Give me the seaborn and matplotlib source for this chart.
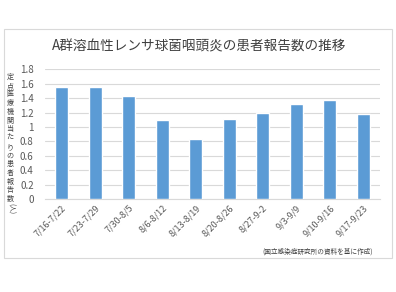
import matplotlib
matplotlib.use("Agg")
import matplotlib.pyplot as plt
import seaborn as sns
import pandas as pd

categories = ["7/16-7/22", "7/23-7/29", "7/30-8/5", "8/6-8/12", "8/13-8/19",
              "8/20-8/26", "8/27-9-2", "9/3-9/9", "9/10-9/16", "9/17-9/23"]
values = [1.56, 1.56, 1.43, 1.10, 0.83, 1.11, 1.20, 1.32, 1.37, 1.18]
yticks = [0, 0.2, 0.4, 0.6, 0.8, 1, 1.2, 1.4, 1.6, 1.8]
ytick_labels = ["0", "0.2", "0.4", "0.6", "0.8", "1", "1.2", "1.4", "1.6", "1.8"]
title = "A群溶血性レンサ球菌咽頭炎の患者報告数の推移"
ylabel_chars = "定点医療機関当たりの患者報告数"
source = "(国立感染症研究所の資料を基に作成)"

sns.set_theme(style="white")
plt.rcParams['font.family'] = ['Noto Sans CJK JP', 'DejaVu Sans']

df = pd.DataFrame({"week": categories, "value": values})

fig = plt.figure(figsize=(3.96, 2.92), dpi=100)
fig.patch.set_facecolor("white")

# outer border
border = plt.Rectangle((4/396, 1-258/292), (392-4)/396, (258-29)/292,
                       transform=fig.transFigure, fill=False,
                       edgecolor="#d9d9d9", linewidth=0.8)
fig.add_artist(border)

ax = fig.add_axes([44.75/396, 1-199/292, (380-44.75)/396, (199-69.3)/292])
sns.barplot(data=df, x="week", y="value", color="#5B9BD5", width=0.39,
            saturation=1, ax=ax, zorder=3)
ax.set_ylim(0, 1.8)
ax.set_xlim(-0.5, len(categories)-0.5)
ax.set_yticks(yticks)
ax.set_yticklabels(ytick_labels, fontsize=7, color="#595959")
ax.set_xticks(range(len(categories)))
ax.set_xticklabels(categories, rotation=45, ha="right", rotation_mode="anchor",
                   fontsize=6.5, color="#595959")
ax.tick_params(axis="both", length=0, pad=3)
ax.tick_params(axis="y", pad=8)
ax.yaxis.grid(True, color="#d9d9d9", linewidth=0.8, zorder=0)
ax.set_axisbelow(True)
for s in ["top", "right", "left"]:
    ax.spines[s].set_visible(False)
ax.spines["bottom"].set_color("#d9d9d9")
ax.spines["bottom"].set_linewidth(0.8)
ax.set_xlabel("")
ax.set_ylabel("")

fig.text(199/396, 1-46/292, title, ha="center", va="center", fontsize=9.8,
         color="#404040")

fig.text(10/396, 1-73/292, "\n".join(ylabel_chars), ha="center", va="top",
         fontsize=5.1, color="#404040", linespacing=1.12)
fig.text(11/396, 1-209/292, "(人)", ha="center", va="center", rotation=-90,
         fontsize=4.8, color="#404040")

fig.text(373/396, 1-252/292, source, ha="right", va="center", fontsize=4.8,
         color="#404040")

fig.savefig("out.png", dpi=100)
